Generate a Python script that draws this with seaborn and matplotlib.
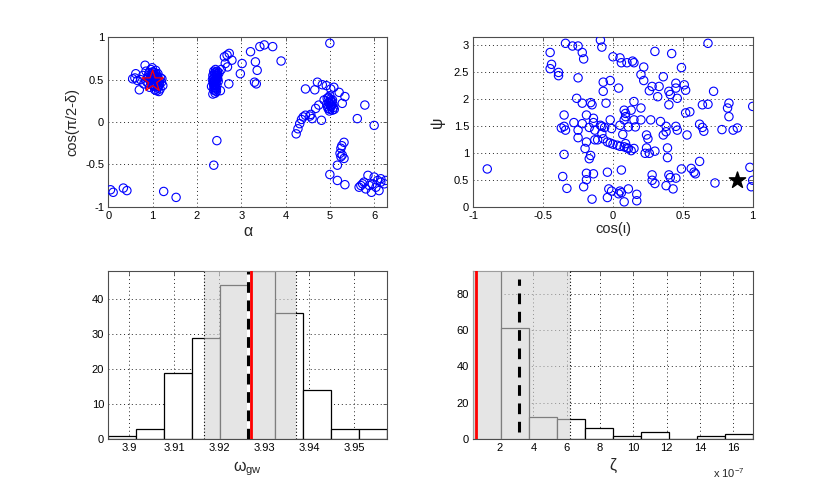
import numpy as np
import pandas as pd
import matplotlib
matplotlib.use("Agg")
import matplotlib.pyplot as plt
import seaborn as sns

# top-left scatter: alpha vs cos(pi/2 - delta)
alpha_vals = [
    0.62, 0.60, 0.55, 0.66, 0.70, 0.83, 0.78, 0.85, 0.88, 0.90, 0.92, 0.94, 0.96, 0.97,
    0.98, 1.00, 1.01, 1.02, 1.03, 1.04, 1.05, 1.06, 1.07, 1.08, 1.09, 1.10, 1.11, 1.12,
    1.13, 1.15, 1.17, 1.18, 1.20, 1.21, 1.23, 0.93, 0.87, 1.14, 0.99, 1.05,
    0.95, 0.97, 1.00, 1.02, 1.04, 1.06, 1.08, 1.10, 1.12, 0.96, 0.99, 1.01, 1.03, 1.07,
    1.09, 1.11, 1.16, 0.91, 0.94, 1.13, 0.73, 0.80,
    2.33, 2.35, 2.36, 2.37, 2.38, 2.38, 2.39, 2.40, 2.40, 2.41, 2.41, 2.42, 2.42, 2.43,
    2.43, 2.44, 2.44, 2.45, 2.45, 2.46, 2.47, 2.48, 2.36, 2.39, 2.44, 2.50, 2.53, 2.72,
    2.45, 2.38, 2.55,
    2.37, 2.39, 2.41, 2.43, 2.45, 2.47, 2.40, 2.42, 2.44, 2.38, 2.46, 2.41,
    2.68, 2.73, 2.79, 2.69, 2.64, 3.02, 2.98, 3.21, 3.32, 3.36, 3.30, 3.34, 3.42, 3.52,
    3.71, 3.90, 2.62,
    4.24, 4.28, 4.32, 4.36, 4.40, 4.45, 4.55, 4.60, 4.81, 4.45, 4.66, 4.72, 4.83, 4.92,
    5.02, 5.09, 5.21, 5.34, 5.28, 4.57, 4.68, 4.75, 4.87, 4.94,
    4.95, 4.98, 5.00, 5.02, 5.04, 5.06, 5.08, 4.97, 5.01, 5.05, 4.96, 5.03, 5.07, 4.99,
    4.98, 5.02, 5.06, 5.10, 4.93, 5.00,
    5.00, 5.62, 5.79, 6.00,
    5.32, 5.27, 5.25, 5.23, 5.28, 5.25, 5.32, 5.17, 5.00, 5.17, 5.34,
    5.70, 5.77, 5.86, 5.96, 6.00, 6.08, 6.15, 6.23, 6.26, 6.04, 6.11, 5.94, 5.81, 5.66,
    6.15, 5.89, 5.74,
    0.05, 0.11, 0.34, 0.42, 1.25, 1.53,
]
cos_dec_vals = [
    0.57, 0.52, 0.51, 0.49, 0.38, 0.67, 0.55, 0.60, 0.52, 0.46, 0.58, 0.50, 0.62, 0.44,
    0.55, 0.48, 0.52, 0.59, 0.42, 0.47, 0.55, 0.50, 0.61, 0.45, 0.37, 0.53, 0.40, 0.57,
    0.48, 0.44, 0.39, 0.52, 0.47, 0.51, 0.43, 0.41, 0.47, 0.36, 0.64, 0.38,
    0.53, 0.46, 0.56, 0.44, 0.51, 0.58, 0.49, 0.45, 0.53, 0.50, 0.59, 0.43, 0.54, 0.47,
    0.56, 0.50, 0.48, 0.55, 0.49, 0.42, 0.50, 0.45,
    0.42, 0.50, 0.55, 0.46, 0.60, 0.38, 0.52, 0.44, 0.58, 0.34, 0.49, 0.62, 0.40, 0.54,
    0.47, 0.57, 0.36, 0.51, 0.43, 0.60, 0.55, 0.48, 0.33, 0.41, 0.39, 0.58, 0.37, 0.45,
    -0.22, -0.51, 0.62,
    0.48, 0.56, 0.45, 0.50, 0.55, 0.51, 0.47, 0.59, 0.53, 0.43, 0.57, 0.37,
    0.79, 0.81, 0.73, 0.65, 0.69, 0.69, 0.57, 0.83, 0.71, 0.61, 0.47, 0.45, 0.89, 0.91,
    0.89, 0.72, 0.77,
    -0.14, -0.08, -0.02, 0.03, 0.06, 0.08, 0.07, 0.04, 0.02, 0.39, 0.38, 0.47, 0.44, 0.43,
    0.39, 0.41, 0.35, 0.30, 0.22, 0.09, 0.16, 0.20, 0.26, 0.28,
    0.18, 0.22, 0.15, 0.25, 0.20, 0.14, 0.17, 0.29, 0.27, 0.24, 0.16, 0.19, 0.21, 0.13,
    0.23, 0.18, 0.26, 0.15, 0.21, 0.31,
    0.93, 0.04, 0.20, -0.04,
    -0.24, -0.28, -0.31, -0.37, -0.39, -0.41, -0.43, -0.51, -0.62, -0.69, -0.74,
    -0.75, -0.71, -0.63, -0.73, -0.65, -0.69, -0.71, -0.73, -0.69, -0.77, -0.81, -0.83,
    -0.79, -0.77, -0.67, -0.75, -0.73,
    -0.80, -0.83, -0.78, -0.81, -0.82, -0.89,
]
true_alpha = 1.00
true_cos_dec = 0.48

# top-right scatter: cos(iota) vs psi
cos_iota_vals = [
    -0.90, -0.45, -0.44, -0.45, -0.39, -0.39, -0.34, -0.29, -0.25, -0.22, -0.21, -0.25,
    -0.09, -0.08, 0.00, 0.05, 0.06, 0.10, 0.14, 0.15, 0.30, 0.42, 0.68, 0.22, 0.49,
    -0.07, -0.02, -0.07, 0.04, 0.20, 0.22, 0.26, 0.28, 0.32, 0.33, 0.36, 0.40, 0.41,
    0.45, 0.45, 0.46, 0.51, 0.52,
    -0.26, -0.22, -0.16, -0.15, -0.05, 0.15, 0.40, 0.55, 0.52, 0.64, 0.68, 0.72, 0.83,
    0.82, 0.83,
    -0.35, -0.35, -0.37, -0.34, -0.28, -0.25, -0.25, -0.19, -0.22, -0.17, -0.14, -0.14,
    -0.09, -0.08, -0.13, -0.06, -0.02, -0.01, 0.05, 0.08, 0.09, 0.08, 0.09, 0.13, 0.15,
    0.16, 0.11, 0.20, 0.20, 0.27, 0.34, 0.38, 0.38, 0.36, 0.45, 0.46, 0.53, 0.62, 0.64,
    0.65, 0.78, 0.86, 0.89, 1.00,
    -0.35, -0.20, -0.16, -0.17, -0.19, -0.13, -0.11, -0.07, -0.04, -0.02, 0.00, 0.03,
    0.05, 0.08, 0.10, 0.11, 0.13, 0.15, 0.09, 0.07, -0.08, 0.23, 0.24, 0.26, 0.24, 0.25,
    0.30, 0.39, 0.39, 0.56, 0.49, 0.58, 0.59, 0.62,
    -0.36, -0.33, -0.19, -0.19, -0.21, -0.14, -0.15, -0.04, 0.06, -0.03, -0.04, -0.01,
    0.05, 0.04, 0.06, 0.08, 0.11, 0.17, 0.17, 0.28, 0.28, 0.30, 0.38, 0.40, 0.41, 0.43,
    0.45, 0.73, 0.98, 1.00, 0.99,
]
psi_vals = [
    0.70, 2.86, 2.64, 2.56, 2.49, 2.43, 3.03, 2.98, 2.98, 2.86, 2.74, 2.39,
    3.09, 2.96, 2.78, 2.76, 2.67, 2.67, 2.70, 2.67, 2.88, 2.84, 3.03, 2.59, 2.58,
    2.31, 2.34, 2.14, 2.20, 2.45, 2.34, 2.15, 2.23, 2.04, 2.23, 2.41, 2.14, 2.08,
    2.29, 2.20, 2.01, 2.26, 2.16,
    2.01, 1.92, 1.93, 1.89, 1.92, 1.95, 1.89, 1.76, 1.74, 1.89, 1.90, 2.14, 1.92,
    1.83, 1.67,
    1.70, 1.49, 1.46, 1.42, 1.56, 1.42, 1.28, 1.70, 1.54, 1.47, 1.64, 1.56,
    1.51, 1.49, 1.42, 1.47, 1.61, 1.45, 1.51, 1.61, 1.67, 1.79, 1.73, 1.79, 1.61,
    1.48, 1.48, 1.83, 1.61, 1.61, 1.58, 1.49, 1.39, 1.33, 1.49, 1.42, 1.33, 1.53, 1.47,
    1.40, 1.43, 1.42, 1.46, 1.86,
    0.97, 1.08, 0.95, 0.89, 1.20, 1.24, 1.24, 1.26, 1.20, 1.18, 1.16, 1.14,
    1.12, 1.11, 1.09, 1.08, 1.04, 1.08, 1.17, 1.34, 1.36, 0.99, 1.09, 0.99, 1.33, 1.26,
    1.03, 1.09, 0.91, 0.71, 0.70, 0.64, 0.61, 0.84,
    0.56, 0.34, 0.62, 0.50, 0.37, 0.61, 0.14, 0.64, 0.68, 0.33, 0.17, 0.29,
    0.29, 0.24, 0.26, 0.09, 0.33, 0.23, 0.11, 0.59, 0.49, 0.43, 0.39, 0.59, 0.54, 0.33,
    0.53, 0.44, 0.73, 0.49, 0.37,
]
true_cos_iota = 0.89
true_psi = 0.49

# bottom-left histogram: omega_gw
omega_lo, omega_hi = 3.8953, 3.9573
omega_counts = [1, 3, 19, 29, 44, 48, 36, 14, 3, 3]
omega_band = (3.9167, 3.9370)
omega_median = 3.9265
omega_true = 3.9271

# bottom-right histogram: zeta (units of 1e-7)
zeta_lo, zeta_hi = 0.4, 17.16
zeta_counts = [99, 61, 12, 11, 6, 2, 4, 0, 2, 3]
zeta_band = (0.4, 6.2)
zeta_median = 3.12
zeta_median_span = (4, 88)
zeta_true = 0.55

sns.set_theme(style="white")
plt.rcParams['font.family'] = ['Liberation Sans', 'DejaVu Sans']
plt.rcParams['axes.axisbelow'] = True

W, H = 830, 493
fig = plt.figure(figsize=(W / 100, H / 100), dpi=100)


def box(l, t, r, b):
    return [l / W, 1 - b / H, (r - l) / W, (b - t) / H]


ax1 = fig.add_axes(box(108.3, 37.3, 386.7, 206.7))
ax2 = fig.add_axes(box(473.3, 37.3, 752.7, 206.7))
ax3 = fig.add_axes(box(108.3, 271, 386.7, 439.3))
ax4 = fig.add_axes(box(473.3, 271, 752.7, 439.3))


def matlab_style(ax):
    for s in ax.spines.values():
        s.set_color('0.3')
        s.set_linewidth(0.8)
    ax.grid(True, color='0.15', linestyle=(0, (1, 3)), linewidth=0.7)
    ax.tick_params(direction='in', length=3, width=0.6, colors='0.3',
                   labelcolor='black', labelsize=8, top=True, right=True, pad=3)


scatter_kw = dict(marker='o', s=36, color='blue', facecolor='none',
                  edgecolor='blue', linewidth=0.8, legend=False, zorder=3)

# top left
sns.scatterplot(x=alpha_vals, y=cos_dec_vals, ax=ax1, **scatter_kw)
ax1.scatter([true_alpha], [true_cos_dec], marker='*', s=260, facecolor='none',
            edgecolor='red', linewidth=0.9, zorder=4)
ax1.set_xlim(0, 2 * np.pi)
ax1.set_ylim(-1, 1)
ax1.set_xticks(range(7))
ax1.set_yticks([-1, -0.5, 0, 0.5, 1])
ax1.set_yticklabels(['-1', '-0.5', '0', '0.5', '1'])
ax1.set_xlabel('α', fontsize=11.5, labelpad=2)
ax1.set_ylabel('cos(π/2-δ)', fontsize=10.5, labelpad=4)
matlab_style(ax1)

# top right
sns.scatterplot(x=cos_iota_vals, y=psi_vals, ax=ax2, **scatter_kw)
ax2.scatter([true_cos_iota], [true_psi], marker='*', s=150, color='black', zorder=4)
ax2.set_xlim(-1, 1)
ax2.set_ylim(0, np.pi)
ax2.set_xticks([-1, -0.5, 0, 0.5, 1])
ax2.set_xticklabels(['-1', '-0.5', '0', '0.5', '1'])
ax2.set_yticks([0, 0.5, 1, 1.5, 2, 2.5, 3])
ax2.set_yticklabels(['0', '0.5', '1', '1.5', '2', '2.5', '3'])
ax2.set_xlabel('cos(ι)', fontsize=10.5, labelpad=1)
ax2.set_ylabel('ψ', fontsize=11.5, labelpad=6)
matlab_style(ax2)


def draw_hist(ax, lo, hi, counts):
    edges = np.linspace(lo, hi, len(counts) + 1)
    hist_df = pd.DataFrame({'x': (edges[:-1] + edges[1:]) / 2, 'n': counts})
    sns.histplot(data=hist_df, x='x', weights='n', bins=edges.tolist(), ax=ax,
                 color='white', edgecolor='black', linewidth=0.9, alpha=1, zorder=2)
    ax.set_xlim(lo, hi)
    ax.set_xlabel('')
    ax.set_ylabel('')


# bottom left
draw_hist(ax3, omega_lo, omega_hi, omega_counts)
ax3.axvspan(*omega_band, color='0.83', alpha=0.6, lw=0, zorder=3)
for xb in omega_band:
    ax3.axvline(xb, color='black', linestyle=(0, (1, 2)), linewidth=0.8, zorder=4)
ax3.axvline(omega_median, color='white', linewidth=2.2, zorder=5)
ax3.axvline(omega_median, color='black', linestyle=(0, (3.5, 2.5)), linewidth=2.2, zorder=6)
ax3.axvline(omega_true, color='red', linewidth=2, zorder=7)
ax3.set_ylim(0, 48)
ax3.set_xticks([3.9, 3.91, 3.92, 3.93, 3.94, 3.95])
ax3.set_xticklabels(['3.9', '3.91', '3.92', '3.93', '3.94', '3.95'])
ax3.set_yticks([0, 10, 20, 30, 40])
ax3.set_xlabel('ω$_{\\mathregular{gw}}$', fontsize=11.5, labelpad=4)
matlab_style(ax3)

# bottom right
draw_hist(ax4, zeta_lo, zeta_hi, zeta_counts)
ax4.axvspan(*zeta_band, color='0.83', alpha=0.6, lw=0, zorder=3)
ax4.axvline(zeta_band[1], color='black', linestyle=(0, (1, 2)), linewidth=0.8, zorder=4)
ax4.vlines(zeta_median, *zeta_median_span, color='black',
           linestyle=(0, (3.5, 2.5)), linewidth=2.2, zorder=6)
ax4.axvline(zeta_true, color='red', linewidth=2, zorder=7)
ax4.set_ylim(0, 92.4)
ax4.set_xticks([2, 4, 6, 8, 10, 12, 14, 16])
ax4.set_yticks([0, 20, 40, 60, 80])
ax4.set_xlabel('ζ', fontsize=11.5, labelpad=3)
ax4.text(0.97, -0.2, 'x 10$^{\\mathregular{-7}}$', transform=ax4.transAxes,
         ha='right', va='center', fontsize=8)
matlab_style(ax4)

fig.savefig('out.png', dpi=100)
